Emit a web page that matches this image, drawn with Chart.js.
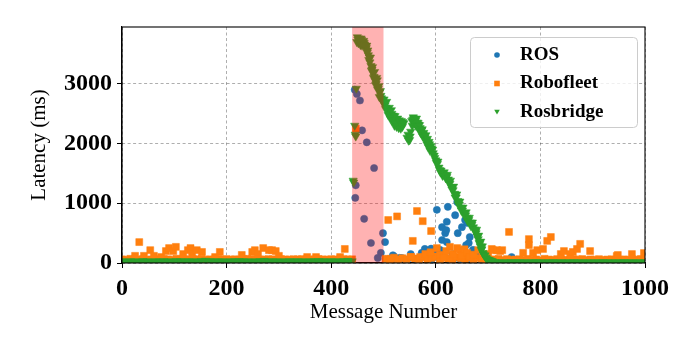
<!DOCTYPE html>
<html lang="en">
<head>
    <meta charset="UTF-8">
    <title>Latency per message</title>
    <script src="https://cdn.jsdelivr.net/npm/chart.js"></script>
    <style>
        body { margin: 0; background: #fff; }
        #latencyChart { display: block; }
    </style>
</head>
<body>

    <canvas id="latencyChart" width="700" height="350"></canvas>

    <script>
        // message numbers sampled for the low "steady state" band
        var msgA = [0,8,16,24,32,40,48,56,64,72,80,88,96,104,112,120,128,136,144,152,160,168,176,184,192,200,208,216,224,232,240,248,256,264,272,280,288,296,304,312,320,328,336,344,352,360,368,376,384,392,400,408,416,424,432,440];
        var msgB = [504,512,520,528,536,544,552,560,568,576,584,592,600,608,616,624,632,640,648,656,664,672,680,688,696];
        var msgC = [704,712,720,728,736,744,752,760,768,776,784,792,800,808,816,824,832,840,848,856,864,872,880,888,896,904,912,920,928,936,944,952,960,968,976,984,992,1000];

        // ROS latency (ms)
        var rosBaseA = [10,8,12,9,11,10,7,12,10,9,11,8,10,12,9,10,11,8,10,9,12,10,11,9,10,8,12,10,9,11,10,8,12,9,10,11,10,9,8,12,10,11,9,10,12,8,10,9,11,10,12,9,10,11,8,10];
        var rosBaseB = [60,40,110,30,80,45,150,70,40,120,90,60,180,50,110,70,150,90,60,130,80,50,100,40,30];
        var rosBaseC = [15,12,18,10,20,14,16,12,18,15,10,14,20,12,16,15,11,18,14,12,16,10,15,13,18,12,14,16,10,15,12,18,14,11,16,13,15,12];
        var rosPeakMsg = [445,446,447,449,455,459,463,468,476,482,489,495,499,503,518,531,545,573,579,583,591,602,608,612,612,618,620,621,621,623,637,641,642,650,656,658,660,663,665,671,679,745];
        var rosPeakLat = [2900,1090,1300,2830,2720,2220,740,2020,335,1590,85,170,500,350,130,85,50,170,235,100,240,890,220,600,385,500,550,690,350,940,800,1020,500,600,720,300,670,335,435,220,170,100];

        // Robofleet latency (ms)
        var fleetBaseA = [60,55,70,62,58,66,52,60,64,57,68,61,55,72,60,63,58,65,62,70,56,61,59,66,60,64,58,62,57,65,70,63,61,60,59,64,62,57,66,60,58,63,61,65,60,56,62,67,60,58,63,61,59,64,60,62];
        var fleetBaseB = [70,55,90,60,80,65,100,75,60,95,70,85,110,60,90,75,65,100,80,70,95,60,85,70,55];
        var fleetBaseC = [55,60,70,48,65,52,58,62,50,68,55,60,45,70,58,52,65,60,55,48,62,58,66,50,60,55,64,52,58,62,50,56,60,54,62,58,66,70];
        var fleetPeakMsg = [25,33,42,54,61,75,84,90,98,103,117,126,131,134,143,153,178,187,229,249,254,260,270,281,287,294,300,354,371,417,426,447,509,514,526,553,556,564,570,575,580,590,591,602,608,615,620,627,633,641,646,650,655,660,665,672,681,690,700,707,709,717,723,727,740,767,778,778,786,794,805,813,820,839,845,857,862,870,876,895,946,948,975,998];
        var fleetPeakLat = [120,350,120,215,120,100,200,250,200,270,150,215,250,150,215,185,100,185,135,185,215,150,250,215,215,200,120,100,100,100,235,2250,720,70,780,100,370,870,100,700,150,180,535,250,135,90,200,270,150,250,215,120,230,170,100,140,215,110,150,235,215,215,200,215,520,170,400,300,170,215,235,370,435,150,200,150,185,235,320,200,117,134,150,167];

        // Rosbridge latency (ms)
        var bridgeBaseA = [30,28,32,30,26,34,30,28,31,29,33,30,27,35,30,32,29,31,28,36,40,33,30,29,31,28,32,30,34,29,31,27,30,33,38,30,29,31,28,30,32,29,31,30,28,33,30,36,31,29,30,32,28,34,38,30];
        var bridgeBaseC = [20,18,15,16,14,18,15,17,14,16,15,18,14,16,15,17,14,16,15,14,17,15,16,14,15,16,14,17,15,16,14,15,17,14,16,15,14,16];
        var bridgePeakMsg = [442,443,445,446,447,448,449,451,452,453,455,456,458,460,461,463,465,467,469,471,473,476,478,480,482,484,486,488,490,493,495,497,500,503,505,508,510,512,514,516,518,520,523,526,528,531,534,536,539,545,547,550,552,556,558,561,564,567,570,573,576,579,582,585,588,591,594,597,600,603,606,609,612,615,618,621,624,627,630,633,636,639,642,645,648,651,654,657,660,663,666,669,672,675,677,679,681,683,685,687,690,693,696,700,704,708];
        var bridgePeakLat = [1380,1350,2300,2150,2120,2920,3700,3740,3680,3760,3720,3650,3740,3700,3660,3690,3620,3600,3520,3480,3440,3300,3240,3180,3120,3050,3000,3060,2920,2860,2800,2740,2680,2640,2600,2560,2520,2480,2440,2500,2420,2380,2400,2350,2320,2300,2380,2280,2340,2100,2150,2060,2200,2400,2420,2380,2350,2320,2260,2220,2150,2100,2050,2000,1990,1960,1900,1800,1720,1660,1600,1520,1500,1480,1470,1440,1400,1330,1270,1220,1160,1100,1040,980,930,880,840,800,760,720,680,640,600,560,500,450,400,340,280,220,170,120,90,60,45,30];
        var bridgeSpreadMsg = [450,454,457,459,462,464,466,468,470,472,474,475,477,479,481,483,485,487,489,491,492,494,496,498,501,504,506,509,511,513,515,517,519,521,522,524,525,527,529,530,532,533,535,537,548,551,554,555,557,559,560,562,563,565,566,568,569,571,574,575,577,580,581,583,584,586,587,589,592,595,598,601,604,607,610,613,616,619,622,625,628,631,634,637,640,643,646,649,652,655,658,661,664,667,670,673,676,678,680,682,684,686,688,689,691,694,697,702,706];
        var bridgeSpreadLat = [3780,3700,3760,3640,3720,3660,3580,3640,3560,3400,3360,3440,3220,3280,3100,3200,2980,3100,2900,2960,2780,2880,2760,2700,2740,2580,2700,2480,2600,2420,2560,2380,2470,2300,2460,2330,2280,2420,2260,2390,2340,2250,2310,2360,2050,2120,2380,2300,2440,2340,2400,2300,2420,2280,2350,2240,2310,2180,2240,2120,2180,2060,2140,1990,2080,1940,2030,1880,1920,1840,1760,1680,1700,1560,1550,1460,1520,1420,1480,1340,1380,1230,1280,1100,1150,980,1030,880,930,790,850,700,760,620,680,560,520,560,440,460,320,360,230,280,150,130,70,50,35];

        // shaded window (message numbers) and axis ticks
        var outageWindow = [440, 500];
        var xTicks = [0, 200, 400, 600, 800, 1000];
        var yTicks = [0, 1000, 2000, 3000];
        var yMax = 3950;

        function points() {
            var out = [];
            for (var a = 0; a < arguments.length; a += 2) {
                var xs = arguments[a], ys = arguments[a + 1];
                for (var i = 0; i < xs.length; i++) {
                    out.push({x: xs[i], y: ys[i]});
                }
            }
            return out;
        }

        var serif = "'Liberation Serif', 'DejaVu Serif', serif";
        Chart.defaults.font.family = serif;
        Chart.defaults.color = '#000';

        function drawMarker(ctx, style, x, y, r) {
            ctx.beginPath();
            if (style === 'circle') {
                ctx.arc(x, y, r, 0, Math.PI * 2);
            } else if (style === 'rect') {
                ctx.rect(x - r, y - r, r * 2, r * 2);
            } else {
                ctx.moveTo(x - r, y - r * 0.8);
                ctx.lineTo(x + r, y - r * 0.8);
                ctx.lineTo(x, y + r * 0.9);
                ctx.closePath();
            }
            ctx.fill();
        }

        var decorations = {
            id: 'decorations',
            afterDatasetsDraw: function (chart) {
                var ctx = chart.ctx, area = chart.chartArea, xs = chart.scales.x;
                var x0 = xs.getPixelForValue(outageWindow[0]);
                var x1 = xs.getPixelForValue(outageWindow[1]);
                ctx.save();
                ctx.fillStyle = 'rgba(255, 0, 0, 0.3)';
                ctx.fillRect(x0, area.top, x1 - x0, area.bottom - area.top);
                ctx.restore();
            },
            afterDraw: function (chart) {
                var ctx = chart.ctx, area = chart.chartArea;
                ctx.save();
                // axes frame
                ctx.strokeStyle = '#000';
                ctx.lineWidth = 1.1;
                ctx.strokeRect(area.left, area.top, area.right - area.left, area.bottom - area.top);

                // legend box
                var w = 167, h = 90;
                var lx = area.right - 8 - w, ly = area.top + 10;
                ctx.beginPath();
                ctx.roundRect(lx + 0.5, ly + 0.5, w, h, 4);
                ctx.fillStyle = 'rgba(255, 255, 255, 0.8)';
                ctx.fill();
                ctx.strokeStyle = '#cccccc';
                ctx.lineWidth = 1;
                ctx.stroke();

                ctx.font = 'bold 19px ' + serif;
                ctx.textBaseline = 'middle';
                ctx.textAlign = 'left';
                chart.data.datasets.forEach(function (ds, i) {
                    var cy = ly + 18 + i * 28.5;
                    ctx.fillStyle = ds.pointBackgroundColor;
                    drawMarker(ctx, ds.pointStyle, lx + 27, cy, 2.8);
                    ctx.fillStyle = '#000';
                    ctx.fillText(ds.label, lx + 50, cy);
                });
                ctx.restore();
            }
        };

        var tickFont = {size: 24, weight: 'bold'};
        var titleFont = {size: 21};

        new Chart(document.getElementById('latencyChart').getContext('2d'), {
            type: 'scatter',
            data: {
                datasets: [
                    {
                        label: 'ROS',
                        data: points(msgA, rosBaseA, msgB, rosBaseB, msgC, rosBaseC, rosPeakMsg, rosPeakLat),
                        pointStyle: 'circle',
                        pointRadius: 3.6,
                        pointBackgroundColor: '#1f77b4',
                        pointBorderColor: '#1f77b4',
                        pointBorderWidth: 0.5,
                        order: 3,
                        clip: 0
                    },
                    {
                        label: 'Robofleet',
                        data: points(msgA, fleetBaseA, msgB, fleetBaseB, msgC, fleetBaseC, fleetPeakMsg, fleetPeakLat),
                        pointStyle: 'rect',
                        pointRadius: 4.9,
                        pointBackgroundColor: '#ff7f0e',
                        pointBorderColor: '#ff7f0e',
                        pointBorderWidth: 0.5,
                        order: 2,
                        clip: 0
                    },
                    {
                        label: 'Rosbridge',
                        data: points(msgA, bridgeBaseA, msgC, bridgeBaseC, bridgePeakMsg, bridgePeakLat, bridgeSpreadMsg, bridgeSpreadLat),
                        pointStyle: 'triangle',
                        pointRotation: 180,
                        pointRadius: 4.8,
                        pointBackgroundColor: '#2ca02c',
                        pointBorderColor: '#2ca02c',
                        pointBorderWidth: 0.5,
                        order: 1,
                        clip: 0
                    }
                ]
            },
            options: {
                responsive: false,
                animation: false,
                events: [],
                layout: {padding: {left: 0, right: 55, top: 27, bottom: 0}},
                plugins: {legend: {display: false}, tooltip: {enabled: false}},
                scales: {
                    x: {
                        type: 'linear',
                        min: xTicks[0],
                        max: xTicks[xTicks.length - 1],
                        afterFit: function (scale) { scale.height = 87; },
                        afterBuildTicks: function (scale) {
                            scale.ticks = xTicks.map(function (v) { return {value: v}; });
                        },
                        ticks: {font: tickFont, padding: 6, maxRotation: 0, callback: function (v) { return String(v); }},
                        grid: {color: 'rgba(0,0,0,0.4)', lineWidth: 0.8, tickColor: '#000', tickLength: 5, tickWidth: 1, tickBorderDash: []},
                        border: {color: '#000', width: 1.1, dash: [3, 2.5]},
                        title: {display: true, text: 'Message Number', font: titleFont, padding: {top: 0, bottom: 25}}
                    },
                    y: {
                        type: 'linear',
                        min: 0,
                        max: yMax,
                        afterFit: function (scale) { scale.width = 122; },
                        afterBuildTicks: function (scale) {
                            scale.ticks = yTicks.map(function (v) { return {value: v}; });
                        },
                        ticks: {font: tickFont, padding: 5, callback: function (v) { return String(v); }},
                        grid: {color: 'rgba(0,0,0,0.4)', lineWidth: 0.8, tickColor: '#000', tickLength: 5, tickWidth: 1, tickBorderDash: []},
                        border: {color: '#000', width: 1.1, dash: [3, 2.5]},
                        title: {display: true, text: 'Latency (ms)', font: titleFont, padding: {top: 27, bottom: 0}}
                    }
                }
            },
            plugins: [decorations]
        });
    </script>

</body>
</html>
